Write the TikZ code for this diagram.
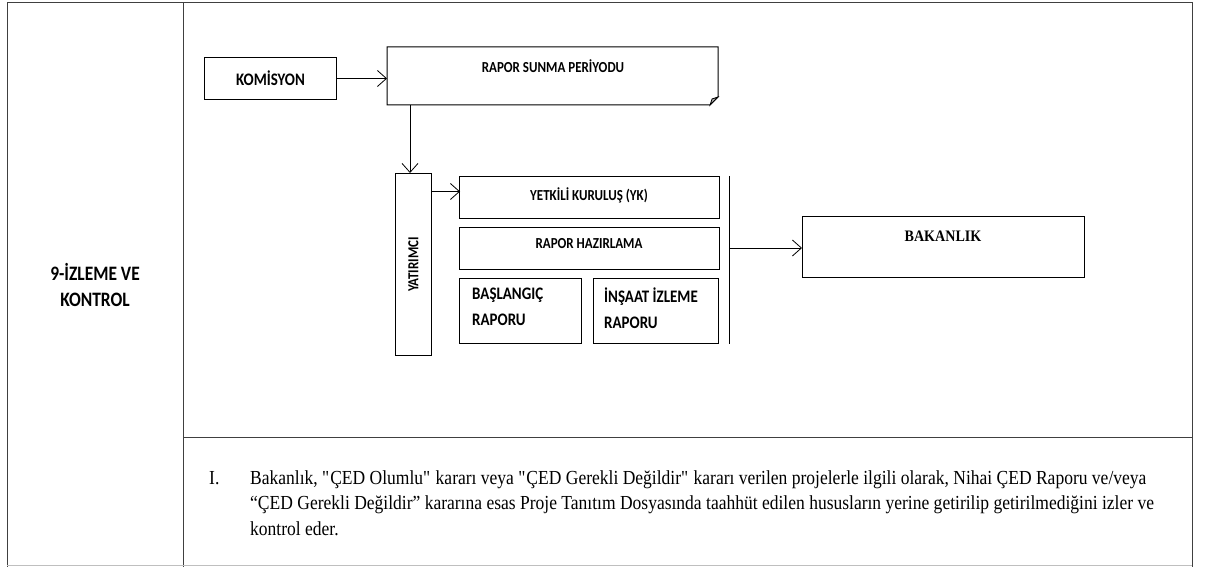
\documentclass[tikz,border=0pt]{standalone}
\usepackage{fontspec}
\setmainfont[FakeStretch=0.88]{Liberation Serif}
\newfontfamily\calibri[FakeStretch=0.85]{Carlito}
\usetikzlibrary{arrows.meta}
\begin{document}
\begin{tikzpicture}[x=1pt,y=-1pt]
		\tikzset{box/.style = {draw,line width=1pt,anchor=north west,inner sep=0pt}}
		\tikzset{lbl/.style = {font=\calibri\bfseries\fontsize{15.3}{17}\selectfont,inner sep=0pt}}
		\tikzset{biglbl/.style = {font=\calibri\bfseries\fontsize{17.6}{26}\selectfont,inner sep=0pt,align=left,anchor=north west}}
		\tikzset{flow/.style = {-{Straight Barb[length=9pt,width=16pt]},line width=0.8pt}}
		\tikzset{frame/.style = {draw=black!75,line width=1pt}}
		\useasboundingbox (0,0) rectangle (1205,567);
		% table frame
		\draw[frame] (7,567) -- (7,3) -- (1192,3) -- (1192,567);
		\draw[frame] (183,3) -- (183,567);
		\draw[frame] (183,437) -- (1192,437);
		\draw[draw=black!25,line width=1pt] (7,565) -- (1192,565);
		\node[font=\calibri\bfseries\fontsize{20.5}{26}\selectfont,align=center] (title) at (95,285) {9-İZLEME VE\\KONTROL};
		% diagram
		\node[box,minimum width=132,minimum height=42] (kom) at (204,57) {};
		\node[lbl,font=\calibri\bfseries\fontsize{17.6}{19}\selectfont] (komT) at (kom.center) {KOMİSYON};
		\coordinate (rs) at (387,47);
		\draw[line width=1pt] (rs) -- ++(331,0) -- ++(0,50) -- ++(-8,8) -- ++(-323,0) -- cycle;
		\draw[line width=0.8pt,fill=black!30] (718,97) -- (712,99) -- (710,105) -- cycle;
		\node[lbl] (rapor) at (553,66) {RAPOR SUNMA PERİYODU};
		\node[box,minimum width=36,minimum height=182] (yat) at (395,173) {};
		\node[lbl,rotate=90] (yatT) at (yat.center) {YATIRIMCI};
		\node[box,minimum width=260,minimum height=42] (yk) at (459,176) {};
		\node[lbl] (ykT) at (589,195) {YETKİLİ KURULUŞ (YK)};
		\node[box,minimum width=260,minimum height=42] (rh) at (459,227) {};
		\node[lbl] (rhT) at (589,244) {RAPOR HAZIRLAMA};
		\node[box,minimum width=122,minimum height=65] (bas) at (459,278) {};
		\node[biglbl] (basT) at (472,288) {BAŞLANGIÇ\\RAPORU};
		\node[box,minimum width=125,minimum height=65] (ins) at (593,278) {};
		\node[biglbl] (insT) at (604,288) {İNŞAAT İZLEME\\RAPORU};
		\coordinate (barT) at (729,176);
		\coordinate (barB) at (729,344);
		\coordinate (bar) at (729,248);
		\draw[line width=1pt] (barT) -- (barB);
		\node[box,minimum width=282,minimum height=61] (bak) at (802,216) {};
		\node[font=\bfseries\fontsize{16}{18}\selectfont,inner sep=0pt] (bakT) at (943,236) {BAKANLIK};
		% connectors
		\draw[flow] (kom.east) -- (kom.east -| rs);
		\draw[flow] (410,105) -- (yat.north -| 410,0);
		\draw[flow] (yat.north east |- yk.west) ++(0,-6) -- ++(28,0);
		\draw[flow] (bar) -- (bar -| bak.west);
		% text
		\node[anchor=north west,inner sep=0pt,align=left,font=\fontsize{19.9}{25.5}\selectfont] (desc) at (250,470) {Bakanlık, \textquotedbl ÇED Olumlu\textquotedbl{} kararı veya \textquotedbl ÇED Gerekli Değildir\textquotedbl{} kararı verilen projelerle ilgili olarak, Nihai ÇED Raporu ve/veya\\“ÇED Gerekli Değildir” kararına esas Proje Tanıtım Dosyasında taahhüt edilen hususların yerine getirilip getirilmediğini izler ve\\kontrol eder.};
		\node[anchor=north west,inner sep=0pt,font=\fontsize{19.9}{25.5}\selectfont] (num) at (209,470) {\vphantom{ğk}I.};
	\end{tikzpicture}
\end{document}
